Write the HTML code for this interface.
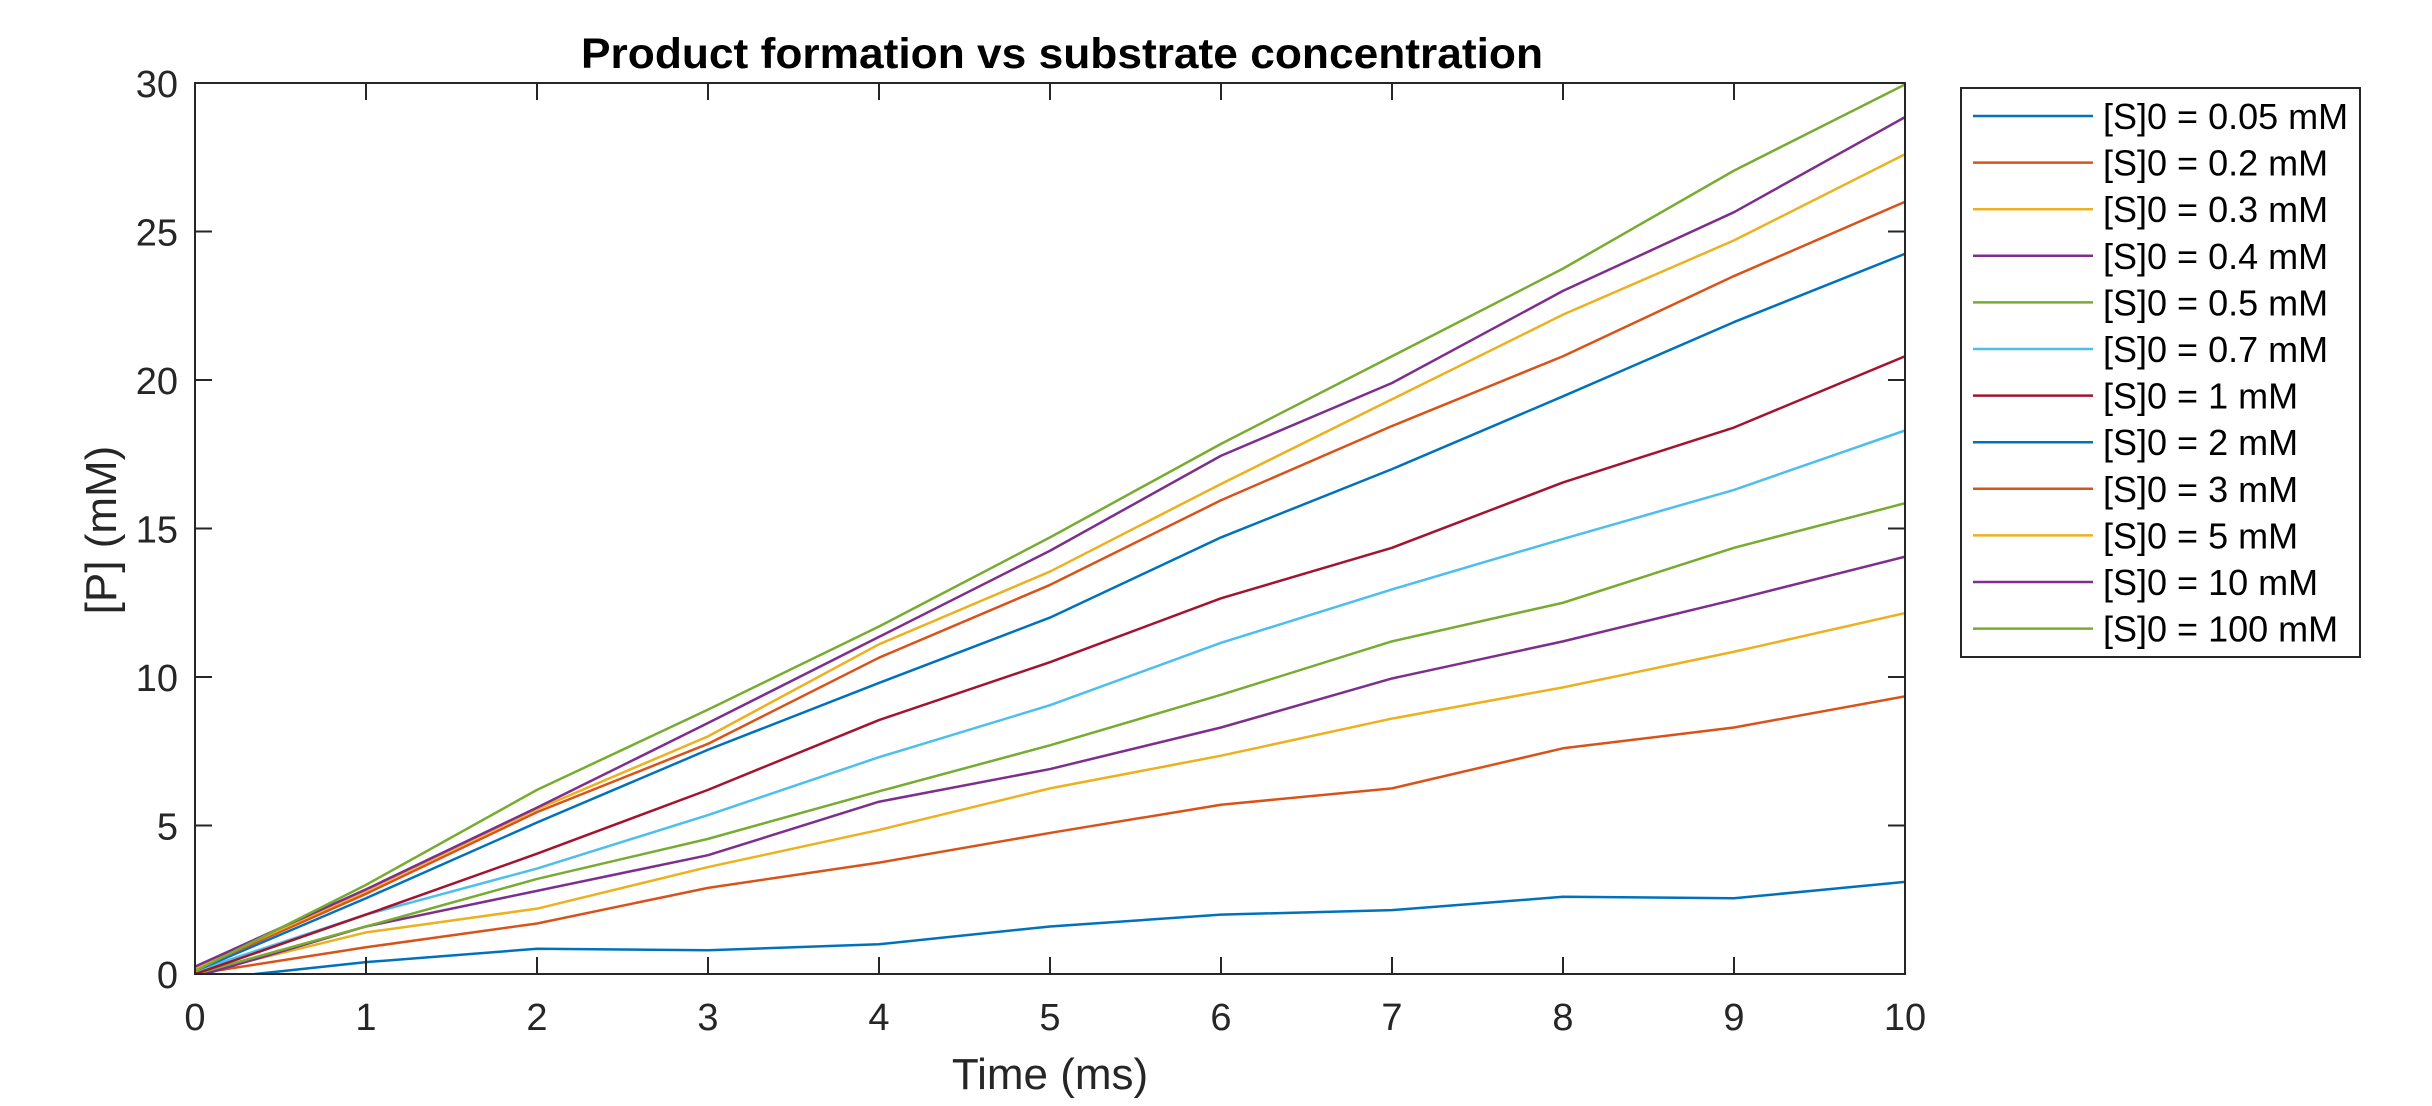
<!DOCTYPE html>
<html><head><meta charset="utf-8"><style>
html,body{margin:0;padding:0;background:#fff;}
svg{display:block;font-family:"Liberation Sans",Arial,sans-serif;}
</style></head><body>
<svg id="chart" width="2432" height="1106" viewBox="0 0 2432 1106" xmlns="http://www.w3.org/2000/svg">
<rect width="2432" height="1106" fill="#fff"/>
<text x="1062" y="68" font-size="43" font-weight="bold" text-anchor="middle" textLength="962" lengthAdjust="spacingAndGlyphs" fill="#000">Product formation vs substrate concentration</text>
<g id="plot"></g>
<text x="1050" y="1089" font-size="44" text-anchor="middle" fill="#262626">Time (ms)</text>
<text transform="translate(116,530) rotate(-90)" font-size="44" text-anchor="middle" fill="#262626">[P] (mM)</text>
<g id="legend"></g>
</svg>
<script>
const times = [0,1,2,3,4,5,6,7,8,9,10];
const seriesLabels = ["[S]0 = 0.05 mM","[S]0 = 0.2 mM","[S]0 = 0.3 mM","[S]0 = 0.4 mM","[S]0 = 0.5 mM","[S]0 = 0.7 mM","[S]0 = 1 mM","[S]0 = 2 mM","[S]0 = 3 mM","[S]0 = 5 mM","[S]0 = 10 mM","[S]0 = 100 mM"];
const s005 = [-0.22,0.4,0.85,0.8,1.0,1.6,2.0,2.15,2.6,2.55,3.1];
const s02 = [0,0.9,1.7,2.9,3.75,4.75,5.7,6.25,7.6,8.3,9.35];
const s03 = [0,1.4,2.2,3.6,4.85,6.25,7.35,8.6,9.65,10.85,12.15];
const s04 = [-0.1,1.6,2.8,4.0,5.8,6.9,8.3,9.95,11.2,12.6,14.05];
const s05 = [0,1.6,3.2,4.55,6.15,7.7,9.4,11.2,12.5,14.35,15.85];
const s07 = [0.1,2.0,3.55,5.35,7.3,9.05,11.15,12.95,14.65,16.3,18.3];
const s1 = [0,2.0,4.05,6.2,8.55,10.5,12.65,14.35,16.55,18.4,20.8];
const s2 = [0.1,2.55,5.1,7.55,9.8,12.0,14.7,17.0,19.45,21.95,24.25];
const s3 = [0.15,2.7,5.45,7.75,10.65,13.1,15.95,18.45,20.8,23.5,26.0];
const s5 = [0.2,2.8,5.55,8.0,11.1,13.55,16.5,19.35,22.2,24.7,27.6];
const s10 = [0.25,2.85,5.6,8.45,11.35,14.25,17.45,19.9,23.0,25.65,28.85];
const s100 = [0.1,3.0,6.2,8.9,11.7,14.7,17.85,20.8,23.75,27.05,29.95];
const xTicks = [0,1,2,3,4,5,6,7,8,9,10];
const yTicks = [0,5,10,15,20,25,30];

const allSeries = [s005,s02,s03,s04,s05,s07,s1,s2,s3,s5,s10,s100];
const colors = ["#0072BD","#D95319","#EDB120","#7E2F8E","#77AC30","#4DBEEE","#A2142F","#0072BD","#D95319","#EDB120","#7E2F8E","#77AC30"];
const NS = "http://www.w3.org/2000/svg";
const L=195, R=1905, T=83, B=974;
const xs = v => L + (v-0)/(10-0)*(R-L);
const ys = v => B - (v-0)/(30-0)*(B-T);
function mk(tag, attrs, parent){const e=document.createElementNS(NS,tag);for(const k in attrs)e.setAttribute(k,attrs[k]);parent.appendChild(e);return e;}
const plot = document.getElementById('plot');
const defs = mk('defs',{},plot);
const cp = mk('clipPath',{id:'clip'},defs);
mk('rect',{x:L,y:T,width:R-L,height:B-T},cp);
const lines = mk('g',{'clip-path':'url(#clip)'},plot);
allSeries.forEach((s,i)=>{
  const p = mk('polyline',{points:s.map((v,j)=>xs(times[j])+','+ys(v)).join(' '),fill:'none',stroke:colors[i],'stroke-width':2.5,'stroke-linejoin':'round'},lines);
  
  
});
const axis = mk('rect',{x:L,y:T,width:R-L,height:B-T,fill:'none',stroke:'#262626','stroke-width':2},plot);


const tk=17;
xTicks.forEach(v=>{
  const x=xs(v);
  mk('line',{x1:x,y1:B,x2:x,y2:B-tk,stroke:'#262626','stroke-width':2},plot);
  mk('line',{x1:x,y1:T,x2:x,y2:T+tk,stroke:'#262626','stroke-width':2},plot);
  const t=mk('text',{x:x,y:1030,'font-size':38,'text-anchor':'middle',fill:'#262626'},plot);
  t.textContent=v;
  
  
});
yTicks.forEach(v=>{
  const y=ys(v);
  mk('line',{x1:L,y1:y,x2:L+tk,y2:y,stroke:'#262626','stroke-width':2},plot);
  mk('line',{x1:R,y1:y,x2:R-tk,y2:y,stroke:'#262626','stroke-width':2},plot);
  const t=mk('text',{x:178,y:y+14,'font-size':38,'text-anchor':'end',fill:'#262626'},plot);
  t.textContent=v;
  
  
});
const leg=document.getElementById('legend');
mk('rect',{x:1961,y:88,width:399,height:569,fill:'#fff',stroke:'#262626','stroke-width':2},leg);
seriesLabels.forEach((lab,i)=>{
  const y=116+i*46.6;
  const ln=mk('line',{x1:1973,y1:y,x2:2093,y2:y,stroke:colors[i],'stroke-width':2.5},leg);
  
  
  const t=mk('text',{x:2103,y:y+13,'font-size':36,fill:'#000'},leg);
  t.textContent=lab;
  
  
});
</script>
</body></html>
